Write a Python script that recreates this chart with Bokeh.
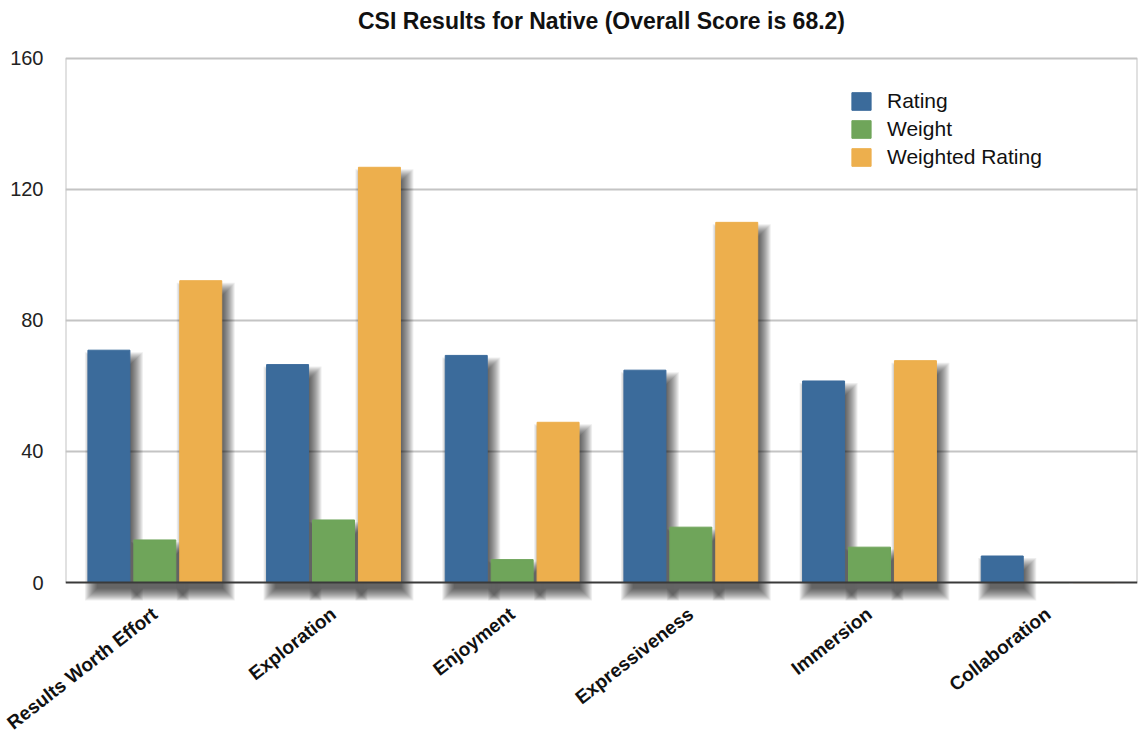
from bokeh.plotting import figure
from bokeh.models import Range1d, FixedTicker, Span, Legend, LegendItem, Title
from bokeh.embed import file_html
from bokeh.resources import INLINE
import math

# CSI factor scores
categories = ["Results Worth Effort", "Exploration", "Enjoyment",
              "Expressiveness", "Immersion", "Collaboration"]
rating = [70.9, 66.5, 69.3, 64.8, 61.5, 8.1]
weight = [13.0, 19.1, 7.0, 16.9, 10.8, 0.0]
weighted_rating = [92.1, 126.7, 48.9, 109.9, 67.7, 0.0]
y_ticks = [0, 40, 80, 120, 160]

series = [("Rating", rating, "#3b6b9b", -0.257),
          ("Weight", weight, "#6fa55a", 0.0),
          ("Weighted Rating", weighted_rating, "#edaf4d", 0.257)]

FONT = "Liberation Sans"
FRAME_W, FRAME_H = 1072, 549
Y0, Y1 = -7, 160.5
BAR_W = 0.235

p = figure(frame_width=FRAME_W, frame_height=FRAME_H,
           x_range=Range1d(0, len(categories)), y_range=Range1d(Y0, Y1),
           output_backend="svg", toolbar_location=None,
           min_border_left=65, min_border_right=2,
           min_border_top=55, min_border_bottom=132)
p.title = None
p.outline_line_color = None
p.background_fill_color = "white"

# empty gap between frame and heading, then the heading itself
p.add_layout(Title(text=" ", text_font_size="14px", standoff=0), "above")
p.add_layout(Title(text="CSI Results for Native (Overall Score is 68.2)",
                   align="center", text_font=FONT, text_font_size="23px",
                   text_font_style="bold", text_color="#111111", standoff=10),
             "above")

# grid
p.xgrid.visible = False
p.ygrid[0].ticker = FixedTicker(ticks=[40, 80, 120, 160])
p.ygrid[0].grid_line_color = "#c4c4c4"
p.ygrid[0].grid_line_width = 2

# frame sides
p.segment(x0=[0, len(categories)], y0=[0, 0], x1=[0, len(categories)], y1=[160, 160],
          line_color="#c4c4c4", line_width=2)

# y axis
yax = p.yaxis[0]
yax.ticker = FixedTicker(ticks=y_ticks)
yax.axis_line_color = None
yax.major_tick_line_color = None
yax.minor_tick_line_color = None
yax.major_label_standoff = 16
yax.major_label_text_font = FONT
yax.major_label_text_font_size = "20px"
yax.major_label_text_color = "#222222"

# x axis with category names
centers = [i + 0.5 for i in range(len(categories))]
xax = p.xaxis[0]
xax.ticker = FixedTicker(ticks=centers)
xax.major_label_overrides = {c: name for c, name in zip(centers, categories)}
xax.major_label_orientation = math.radians(38)
xax.axis_line_color = None
xax.major_tick_line_color = None
xax.minor_tick_line_color = None
xax.major_label_standoff = 0
xax.major_label_text_font = FONT
xax.major_label_text_font_size = "19px"
xax.major_label_text_font_style = "bold"
xax.major_label_text_color = "#111111"

# soft drop shadows behind the bars (stacked translucent rectangles)
ux = len(categories) / FRAME_W
uy = (Y1 - Y0) / FRAME_H
dx_px, dy_px = 5, 10
for name, vals, color, off in series:
    for e in range(-4, 9):
        L, R, T, B = [], [], [], []
        for c, v in zip(centers, vals):
            if v <= 0:
                continue
            x = c + off + dx_px * ux
            L.append(x - BAR_W / 2 - e * ux)
            R.append(x + BAR_W / 2 + e * ux)
            T.append(v - dy_px * uy + e * uy)
            B.append(-dy_px * uy - e * uy)
        p.quad(left=L, right=R, top=T, bottom=B, fill_color="black",
               fill_alpha=0.065, line_color=None)

# baseline
p.add_layout(Span(location=0, dimension="width", line_color="#3a3a3a", line_width=2))

items = []
for name, vals, color, off in series:
    r = p.vbar(x=[c + off for c in centers], top=vals, bottom=0, width=BAR_W,
               fill_color=color, line_color=color, line_width=1)
    items.append(LegendItem(label=name, renderers=[r]))

legend = Legend(items=items, location=(784, 436), orientation="vertical",
                glyph_width=24, glyph_height=22, spacing=4, label_standoff=14,
                padding=0, margin=0, border_line_color=None,
                background_fill_alpha=0,
                label_text_font=FONT, label_text_font_size="21px",
                label_text_color="#111111", label_height=22)
p.add_layout(legend)

open("out.html", "w").write(file_html(p, INLINE))
